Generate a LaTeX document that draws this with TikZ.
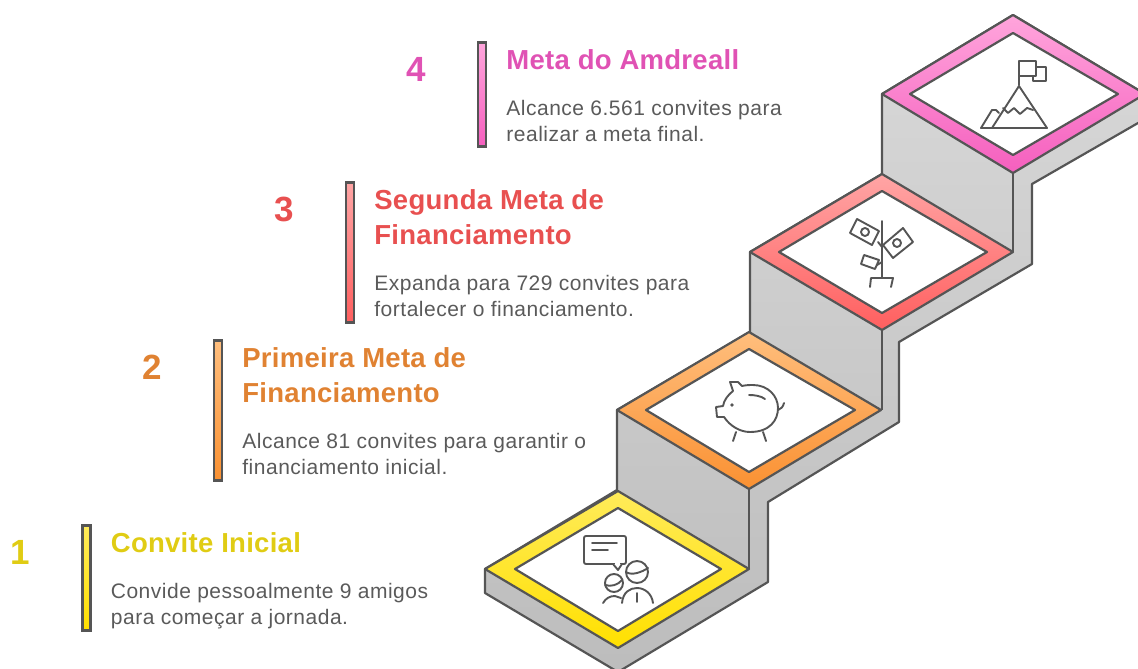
\documentclass[tikz,border=0pt]{standalone}
\usepackage{fontspec}
\setmainfont{Liberation Sans}
\newfontfamily\fontetitulo[LetterSpace=1.0]{Liberation Sans}
\newfontfamily\fontetexto[LetterSpace=2.4]{Liberation Sans}
\usetikzlibrary{positioning}
\definecolor{traco}{HTML}{555555}
\definecolor{textoc}{HTML}{5A5A5A}
\definecolor{amarelo}{HTML}{E0CC14}
\definecolor{laranja}{HTML}{E08232}
\definecolor{vermelho}{HTML}{E85050}
\definecolor{rosa}{HTML}{E052B4}
\definecolor{amareloA}{HTML}{FFEB5A}
\definecolor{amareloB}{HTML}{FFE000}
\definecolor{laranjaA}{HTML}{FFBE7D}
\definecolor{laranjaB}{HTML}{FA9132}
\definecolor{vermelhoA}{HTML}{FFA5A5}
\definecolor{vermelhoB}{HTML}{FF5F5F}
\definecolor{rosaA}{HTML}{FFA5DC}
\definecolor{rosaB}{HTML}{F55FBE}
\tikzstyle{corpo}   = [draw=traco, line width=2.2pt, line join=round, top color=black!15, bottom color=black!26]
\tikzstyle{aresta}  = [draw=traco, line width=2.2pt]
\tikzstyle{miolo}   = [draw=traco, line width=2.2pt, line join=round, fill=white]
\tikzstyle{anel}    = [draw=traco, line width=2.2pt, line join=round]
\tikzstyle{icone}   = [draw=traco, line width=1.9pt, line join=round, line cap=round]
\tikzstyle{barra}   = [draw=traco, line width=2.4pt, rectangle, minimum width=8pt, inner sep=0pt]
\tikzstyle{numero}  = [inner sep=0pt, font=\fontsize{35}{35}\selectfont\bfseries]
\tikzstyle{titulo}  = [inner sep=0pt, align=left, font=\fontetitulo\fontsize{27.5}{35}\selectfont\bfseries]
\tikzstyle{texto}   = [inner sep=0pt, align=left, text=textoc, font=\fontetexto\fontsize{21}{26}\selectfont]
\begin{document}
\begin{tikzpicture}[x=1pt, y=-1pt]
	\useasboundingbox (0,0) rectangle (1138,669);
	\clip (0,0) rectangle (1138,669);

	\draw[corpo] (485,569) -- (485,593) -- (618,672) -- (768,582) -- (768,502) -- (899,422) -- (899,342) -- (1032,264) -- (1032,184) -- (1145,119) -- (1145,94) -- (1013,15) -- (882,94) -- (882,174) -- (750,252) -- (750,332) -- (617,410) -- (617,490) -- cycle;
	\draw[aresta] (749,489) -- (749,569);
	\draw[aresta] (882,330) -- (882,410);
	\draw[aresta] (1013,173) -- (1013,252);

	\draw[anel, top color=amareloA, bottom color=amareloB] (485,569) -- (618,491) -- (749,569) -- (618,648) -- cycle;
	\draw[miolo] (515,569) -- (618,508) -- (721,569) -- (618,631) -- cycle;
	\draw[anel, top color=laranjaA, bottom color=laranjaB] (617,410) -- (749,332) -- (881,410) -- (749,489) -- cycle;
	\draw[miolo] (646,410) -- (749,349) -- (855,410) -- (749,472) -- cycle;
	\draw[anel, top color=vermelhoA, bottom color=vermelhoB] (750,252) -- (882,174) -- (1013,252) -- (882,330) -- cycle;
	\draw[miolo] (779,252) -- (882,191) -- (987,252) -- (882,313) -- cycle;
	\draw[anel, top color=rosaA, bottom color=rosaB] (882,94) -- (1013,15) -- (1145,94) -- (1013,173) -- cycle;
	\draw[miolo] (910,94) -- (1013,33) -- (1118,94) -- (1013,155) -- cycle;

	\draw[icone, rounded corners=2pt] (584,536) rectangle (626,564);
	\draw[icone, fill=white] (622,564) -- (618,570) -- (613,564);
	\draw[white, line width=2pt] (615,564) -- (620,564);
	\draw[icone] (592,543) -- (617,543);
	\draw[icone] (592,550) -- (608,550);
	\draw[icone] (637,572) circle (11pt);
	\draw[icone] (626,572) .. controls (632,576) and (642,572) .. (648,568);
	\draw[icone] (622,603) .. controls (623,592) and (630,588) .. (637,588) .. controls (645,588) and (652,594) .. (653,603);
	\draw[icone] (637,593) -- (637,602);
	\draw[icone] (614,583) circle (9pt);
	\draw[icone] (605,585) .. controls (611,587) and (618,585) .. (622,580);
	\draw[icone] (603,603) .. controls (606,598) and (610,596) .. (615,596) -- (621,598);

	\draw[icone] (733,391) -- (730,382) -- (738,382) -- (742,386) .. controls (746,385) and (750,385) .. (753,385) .. controls (768,385) and (778,396) .. (778,408) .. controls (778,420) and (770,432) .. (750,432) .. controls (740,432) and (730,426) .. (724,417) -- (717,417) -- (716,407) -- (723,406) .. controls (724,400) and (728,395) .. (733,391);
	\fill[traco] (732,405) circle (1.8pt);
	\draw[icone] (749,395) .. controls (755,395) and (761,396) .. (765,399);
	\draw[icone] (778,410) .. controls (781,409) and (783,407) .. (784,403);
	\draw[icone] (736,432) -- (733,441);
	\draw[icone] (763,432) -- (766,441);

	\draw[icone] (882,221) -- (882,278);
	\draw[icone] (870,287) -- (871,278) -- (893,278) -- (891,287);
	\draw[icone] (857,219) -- (879,231) -- (872,245) -- (850,233) -- cycle;
	\draw[icone] (865,232) circle (4pt);
	\draw[icone] (903,228) -- (913,242) -- (893,258) -- (883,245) -- cycle;
	\draw[icone] (897,243) circle (4pt);
	\draw[icone] (864,255) -- (879,260) -- (875,269) -- (861,264) -- cycle;
	\draw[icone] (878,242) -- (882,247);
	\draw[icone] (877,265) -- (882,262);

	\draw[icone] (1019,85) -- (1019,61) -- (1036,61) -- (1036,76) -- (1019,76);
	\draw[icone] (1036,67) -- (1046,67) -- (1046,81) -- (1033,81) -- (1033,76);
	\draw[icone] (992,128) -- (1019,86) -- (1047,128) -- (981,128) -- (992,110) -- (996,110) -- (999,113);
	\draw[icone] (1003,108) -- (1008,113) -- (1014,108) -- (1020,114) -- (1027,108) -- (1033,110);

	\node[barra, minimum height=105pt, top color=amareloA, bottom color=amareloB]	(Barra1) at (86.5,578) {};
	\node[barra, minimum height=140pt, top color=laranjaA, bottom color=laranjaB]	(Barra2) at (218,410.5) {};
	\node[barra, minimum height=140pt, top color=vermelhoA, bottom color=vermelhoB]	(Barra3) at (350,252.5) {};
	\node[barra, minimum height=104pt, top color=rosaA, bottom color=rosaB]	(Barra4) at (482,94.5) {};

	\node[numero, text=amarelo, left=61pt of Barra1.north west, anchor=north, yshift=-16pt]	(Numero1) {1};
	\node[numero, text=laranja, left=61pt of Barra2.north west, anchor=north, yshift=-16pt]	(Numero2) {2};
	\node[numero, text=vermelho, left=61pt of Barra3.north west, anchor=north, yshift=-16pt]	(Numero3) {3};
	\node[numero, text=rosa, left=61pt of Barra4.north west, anchor=north, yshift=-16pt]	(Numero4) {4};

	\node[titulo, text=amarelo, right=19pt of Barra1.north east, anchor=north west, yshift=-8pt]	(Titulo1) {Convite Inicial};
	\node[titulo, text=laranja, right=19pt of Barra2.north east, anchor=north west, yshift=-8pt]	(Titulo2) {Primeira Meta de\\Financiamento};
	\node[titulo, text=vermelho, right=19pt of Barra3.north east, anchor=north west, yshift=-8pt]	(Titulo3) {Segunda Meta de\\Financiamento};
	\node[titulo, text=rosa, right=19pt of Barra4.north east, anchor=north west, yshift=-8pt]	(Titulo4) {Meta do Amdreall};

	\node[texto, below=30pt of Titulo1.south west, anchor=north west]	(Texto1) {Convide pessoalmente 9 amigos\\para começar a jornada.};
	\node[texto, below=30pt of Titulo2.south west, anchor=north west]	(Texto2) {Alcance 81 convites para garantir o\\financiamento inicial.};
	\node[texto, below=30pt of Titulo3.south west, anchor=north west]	(Texto3) {Expanda para 729 convites para\\fortalecer o financiamento.};
	\node[texto, below=30pt of Titulo4.south west, anchor=north west]	(Texto4) {Alcance 6.561 convites para\\realizar a meta final.};
\end{tikzpicture}
\end{document}
